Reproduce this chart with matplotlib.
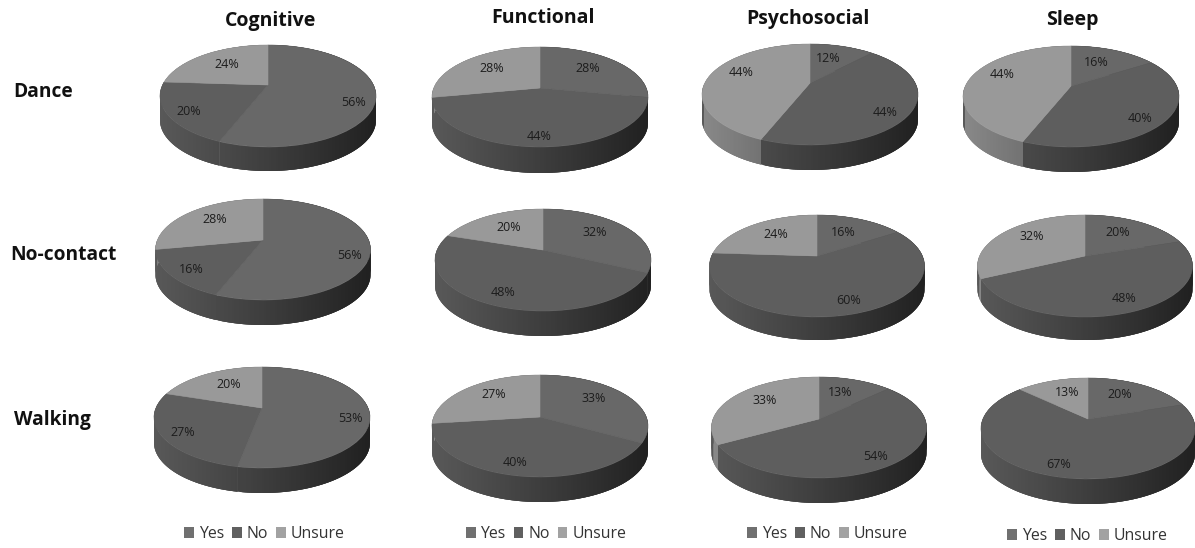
import numpy as np
import matplotlib
matplotlib.use("Agg")
import matplotlib.pyplot as plt
from matplotlib.collections import PolyCollection
from matplotlib.patches import Patch
from matplotlib.transforms import Transform

# Survey responses (percent) per intervention and outcome
outcomes = ["Cognitive", "Functional", "Psychosocial", "Sleep"]
groups = ["Dance", "No-contact", "Walking"]
answers = ["Yes", "No", "Unsure"]

dance_values = [[56, 20, 24], [28, 44, 28], [12, 44, 44], [16, 40, 44]]
nocontact_values = [[56, 16, 28], [32, 48, 20], [16, 60, 24], [20, 48, 32]]
walking_values = [[53, 27, 20], [33, 40, 27], [13, 54, 33], [20, 67, 13]]
all_values = [dance_values, nocontact_values, walking_values]

# Page layout, in pixels from the top-left corner
W, H = 1195, 548
# apex x, apex y, left, right, top rim, front rim, bottom of the side wall
dance_geom = [(268, 85, 160, 376, 45, 147, 171), (540, 88, 432, 648, 47, 147, 173),
              (810, 83, 702, 918, 44, 145, 170), (1071, 86, 963, 1179, 46, 147, 172)]
nocontact_geom = [(263, 240, 156, 371, 199, 300, 325), (543, 250, 435, 651, 209, 311, 336),
                  (817, 256, 710, 925, 215, 317, 340), (1085, 256, 977, 1192, 215, 317, 340)]
walking_geom = [(262, 408, 154, 370, 367, 468, 493), (540, 417, 432, 648, 375, 477, 502),
                (819, 419, 712, 927, 377, 478, 503), (1088, 419, 980, 1194, 378, 479, 504)]
all_geom = [dance_geom, nocontact_geom, walking_geom]

# Centre of each percentage label, in pixels
dance_labels = [[(354, 102), (189, 111), (227, 64)], [(588, 68), (539, 136), (492, 68)],
                [(828, 59), (885, 113), (741, 73)], [(1096, 62), (1140, 119), (1002, 75)]]
nocontact_labels = [[(350, 256), (191, 270), (215, 220)], [(595, 232), (503, 293), (509, 227)],
                    [(843, 232), (849, 301), (776, 234)], [(1118, 233), (1124, 299), (1032, 237)]]
walking_labels = [[(350, 419), (183, 433), (229, 384)], [(594, 398), (515, 463), (494, 395)],
                  [(840, 392), (876, 456), (765, 400)], [(1120, 395), (1059, 464), (1067, 393)]]
all_labels = [dance_labels, nocontact_labels, walking_labels]

title_pos = [(271, 21), (543, 18), (808, 19), (1072, 20)]
group_pos = [(13, 92), (10, 255), (14, 420)]
legend_pos = [(264.5, 534), (546, 534), (827.5, 534), (1087.5, 536)]

top_colors = ["#686868", "#5e5e5e", "#999999"]
legend_colors = ["#707070", "#606060", "#a2a2a2"]
wall_gain = [1.0, 1.0, 1.55]

SANS = "Open Sans"


class TiltedDisc(Transform):
    """Projects the unit disc onto a tilted plane, nearer edge larger."""
    input_dims = 2
    output_dims = 2
    is_separable = False
    has_inverse = False

    def __init__(self, half_width, rise, drop):
        super().__init__()
        self.k = (drop - rise) / (drop + rise)
        self.b = rise * (1 + self.k)
        self.a = half_width * np.sqrt(1 - self.k ** 2)

    def transform_non_affine(self, values):
        values = np.asarray(values, float)
        w = 1 + self.k * values[:, 1]
        return np.column_stack([self.a * values[:, 0] / w, self.b * values[:, 1] / w])


def wall_shade(x, gain):
    # Light falls from the left: the wall darkens toward the right
    if x < -0.99:
        gain = 1.0
    level = (88 - 28 * (np.clip(x, -1, 1) + 1)) * gain / 255
    return (min(level, 1),) * 3


def draw_wall(ax, disc, wedge, half_width, depth, gain):
    # Side wall below the rim of one slice, drawn as overlapping strips
    # from right to left so neighbouring strips leave no seams
    theta = np.radians(np.linspace(wedge.theta1, wedge.theta2,
                                   max(int(wedge.theta2 - wedge.theta1), 2) + 1))
    rim = disc.transform(np.column_stack([np.cos(theta), np.sin(theta)]))
    low = rim - [0, depth]
    order = np.argsort(-rim[:, 0])
    quads, shades = [], []
    for i in order:
        j = np.arange(max(i - 3, 0), min(i + 4, len(rim)))
        j = j[rim[j, 0] >= rim[i, 0]]
        if len(j) < 2:
            continue
        j = j[np.argsort(rim[j, 0])]
        quads.append(np.vstack([rim[j], low[j][::-1]]))
        shades.append(wall_shade(rim[i, 0] / half_width, gain))
    ax.add_collection(PolyCollection(quads, facecolors=shades, edgecolors="none",
                                     linewidths=0, zorder=2))


def draw_disc(fig, values, geom, label_xy):
    cx, cy, left, right, top, front, bottom = geom
    half_width = (right - left) / 2
    depth = bottom - front
    pad_x, pad_up, pad_down = half_width + 12, cy - top + 8, bottom - cy + 8
    ax = fig.add_axes([(cx - pad_x) / W, 1 - (cy + pad_down) / H,
                       2 * pad_x / W, (pad_up + pad_down) / H])
    disc = TiltedDisc(half_width, cy - top, front - cy)

    wedges, _, autotexts = ax.pie(
        values, colors=top_colors, startangle=90, counterclock=False,
        autopct=lambda p: f"{p:.0f}%",
        wedgeprops={"linewidth": 0.4, "zorder": 3},
        textprops={"fontsize": 9, "family": SANS, "color": "#1c1c1c", "zorder": 4},
    )
    ax.set_aspect("auto")
    ax.set_xlim(-pad_x, pad_x)
    ax.set_ylim(-pad_down, pad_up)

    for wedge, text, gain, (px, py) in zip(wedges, autotexts, wall_gain, label_xy):
        wedge.set_edgecolor(wedge.get_facecolor())
        wedge.set_transform(disc + ax.transData)
        text.set_position((px - cx, cy - py))
        text.set_ha("center")
        text.set_va("center")
        draw_wall(ax, disc, wedge, half_width, depth, gain)
    ax.axis("off")


fig = plt.figure(figsize=(W / 100, H / 100), dpi=100, facecolor="white")

for row_values, row_geom, row_labels in zip(all_values, all_geom, all_labels):
    for values, geom, label_xy in zip(row_values, row_geom, row_labels):
        draw_disc(fig, values, geom, label_xy)

for name, (x, y) in zip(outcomes, title_pos):
    fig.text(x / W, 1 - y / H, name, ha="center", va="center", fontsize=14,
             fontweight="bold", family=SANS, color="#111111")

for name, (x, y) in zip(groups, group_pos):
    fig.text(x / W, 1 - y / H, name, ha="left", va="center", fontsize=13.8,
             fontweight="bold", family=SANS, color="#111111")

handles = [Patch(facecolor=c, edgecolor="none") for c in legend_colors]
for x, y in legend_pos:
    fig.legend(handles, answers, loc="center", bbox_to_anchor=(x / W, 1 - y / H), ncol=3,
               frameon=False, handlelength=0.62, handleheight=0.62, handletextpad=0.3,
               columnspacing=0.5, borderpad=0,
               prop={"family": SANS, "size": 11.4}, labelcolor="#333333")

fig.savefig("out.png", dpi=100, facecolor="white")
